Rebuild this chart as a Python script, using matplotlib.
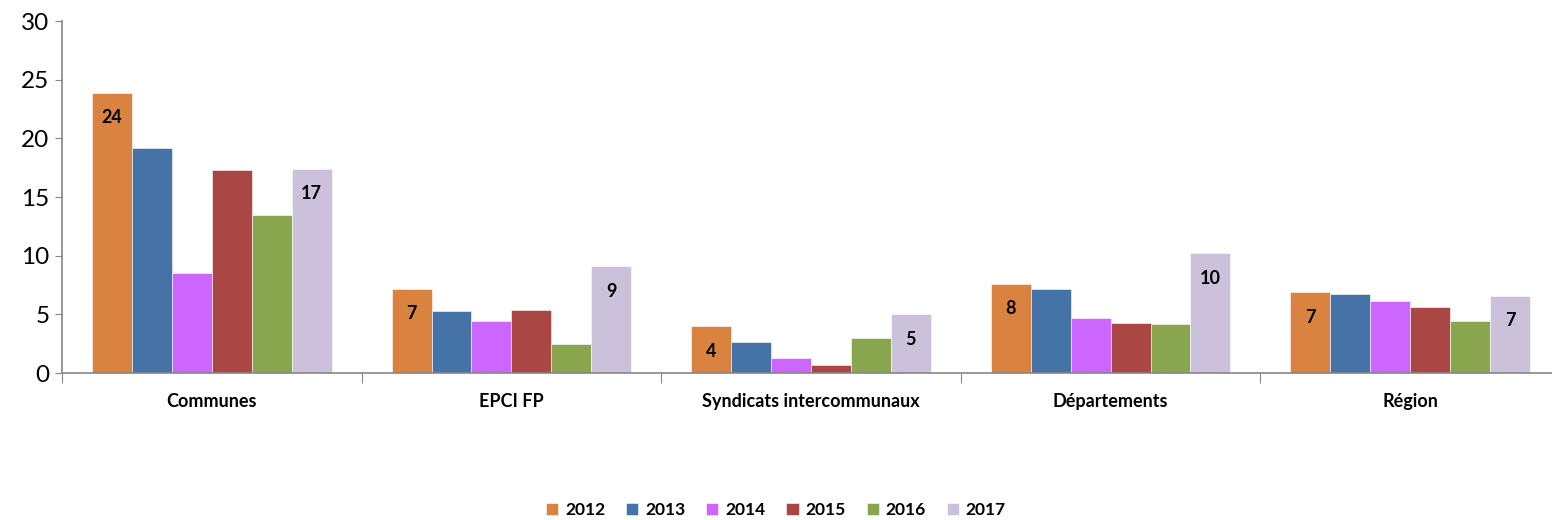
import matplotlib.pyplot as plt
import numpy as np

plt.rcParams['font.family'] = ['Lato', 'DejaVu Sans']

categories = ['Communes', 'EPCI FP', 'Syndicats intercommunaux', 'Départements', 'Région']
years = ['2012', '2013', '2014', '2015', '2016', '2017']
v2012 = [23.9, 7.2, 4.0, 7.6, 6.9]
v2013 = [19.2, 5.3, 2.6, 7.2, 6.7]
v2014 = [8.5, 4.4, 1.3, 4.7, 6.1]
v2015 = [17.3, 5.4, 0.7, 4.3, 5.6]
v2016 = [13.5, 2.5, 3.0, 4.2, 4.4]
v2017 = [17.4, 9.1, 5.0, 10.2, 6.6]
colors = ['#DA8340', '#4572A7', '#CC66FF', '#AA4643', '#89A54E', '#CCC1DA']
labelled = ['2012', '2017']

series = [v2012, v2013, v2014, v2015, v2016, v2017]

fig = plt.figure(figsize=(15.52, 5.2), dpi=100)
ax = fig.add_axes([62 / 1552, 147 / 520, 1498 / 1552, 352 / 520])

x = np.arange(len(categories))
w = 0.8 / len(years)
for i, (yr, vals) in enumerate(zip(years, series)):
    pos = x - 0.4 + w * (i + 0.5)
    bars = ax.bar(pos, vals, width=w, color=colors[i], label=yr,
                  edgecolor='white', linewidth=0.4)
    if yr in labelled:
        for b, v in zip(bars, vals):
            ax.annotate(f'{v:.0f}', (b.get_x() + b.get_width() / 2, v),
                        xytext=(0, -18), textcoords='offset points',
                        ha='center', va='center', fontsize=13, fontweight='bold')

ax.set_xlim(-0.5, len(categories) - 0.5)
ax.set_ylim(0, 30)
ax.set_yticks(range(0, 31, 5))
ax.tick_params(axis='y', labelsize=17.5, length=5, color='#868686', pad=4)

ax.set_xticks(np.arange(len(categories) + 1) - 0.5)
ax.set_xticklabels([])
ax.tick_params(axis='x', length=7, color='#868686')
for xi, c in zip(x, categories):
    ax.text(xi, -2.4, c, ha='center', va='center', fontsize=13, fontweight='bold')

for s in ['top', 'right']:
    ax.spines[s].set_visible(False)
for s in ['left', 'bottom']:
    ax.spines[s].set_color('#868686')
    ax.spines[s].set_linewidth(1.2)

leg = fig.legend(loc='center', bbox_to_anchor=(0.5, 1 - 510 / 520), ncol=6,
                 frameon=False, handlelength=0.7, handleheight=0.7,
                 handletextpad=0.4, columnspacing=1.2,
                 prop={'size': 12.5, 'weight': 'bold'})

fig.savefig('out.png', dpi=100)
